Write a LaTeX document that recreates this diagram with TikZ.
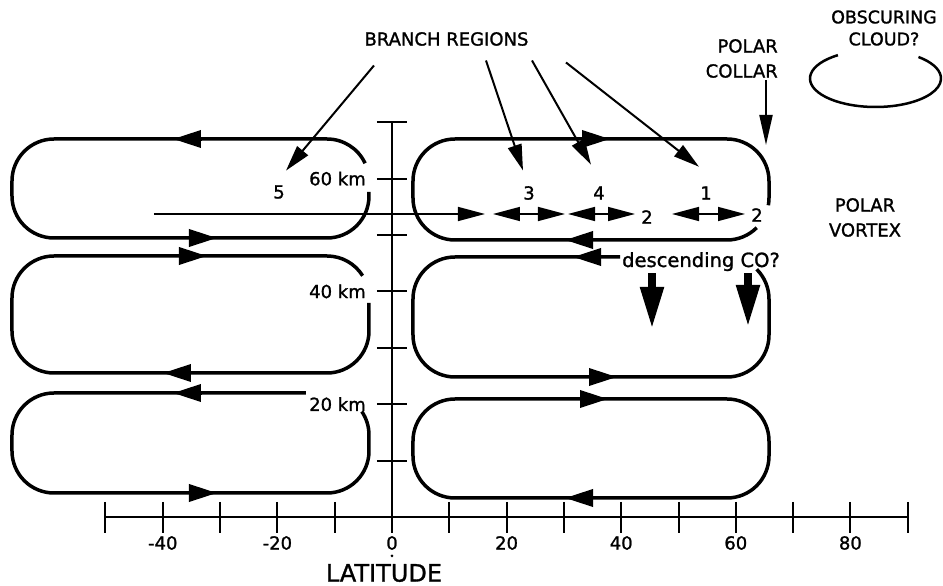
\documentclass[tikz,border=0pt]{standalone}
\usepackage{fontspec}
\setmainfont{DejaVu Sans}[FakeBold=1.3]
\usetikzlibrary{arrows.meta}

\begin{document}
\begin{tikzpicture}[x=1pt, y=1pt,
    cell/.style={line width=3.5pt},
    flow/.style={line width=3.5pt, -{Triangle[length=28pt,width=17pt]}},
    axis/.style={line width=2pt},
    pointer/.style={line width=2pt, -{Triangle[length=26pt,width=14pt]}},
    oneway/.style={line width=1.5pt, -{Triangle[length=27pt,width=14pt]}},
    twoway/.style={line width=1.5pt, {Triangle[length=27pt,width=14pt]}-{Triangle[length=27pt,width=14pt]}},
    sink/.style={line width=8pt, -{Triangle[length=42pt,width=22pt]}},
    lbl/.style={font=\fontsize{18}{25}\selectfont, inner sep=2pt}]

  \path[use as bounding box] (-392,-69) rectangle (551,517);

  % axes: 10 deg = 57.3, 10 km = 56.4
  \draw[axis] (0,-13) -- (0,394.8);
  \foreach \k in {1,...,7}
    \draw[axis] (-15,\k*56.4) -- (15,\k*56.4);
  \draw[axis] (-50*5.73,0) -- (90*5.73,0);
  \foreach \lat in {-50,-40,...,90}
    \draw[axis] (\lat*5.73,15) -- (\lat*5.73,-16);
  \foreach \lat [count=\i] in {-40,-20,...,80}
    \node[lbl] (lat\i) at (\lat*5.73,-26) {\lat};
  \fill (0,-39) circle (1.5);
  \node[lbl, font=\fontsize{24}{28}\selectfont] (latitude) at (-8,-56) {LATITUDE};

  \node[lbl, anchor=east] (km60) at (-24,338.4) {60 km};
  \node[lbl, anchor=east] (km40) at (-24,225.6) {40 km};
  \node[lbl, anchor=east] (km20) at (-24,112.8) {20 km};

  % cells, southern side
  \draw[cell] (-23,325) -- (-23,321) arc[start angle=0,end angle=-90,radius=42]
    -- (-338,279) arc[start angle=270,end angle=180,radius=42]
    -- (-380,336) arc[start angle=180,end angle=90,radius=42]
    -- (-65,378) arc[start angle=90,end angle=25,radius=42];
  \draw[cell] (-23,214) -- (-23,186) arc[start angle=0,end angle=-90,radius=42]
    -- (-338,144) arc[start angle=270,end angle=180,radius=42]
    -- (-380,219) arc[start angle=180,end angle=90,radius=42]
    -- (-65,261) arc[start angle=90,end angle=32,radius=42];
  \draw[cell] (-86,124) -- (-338,124) arc[start angle=90,end angle=180,radius=42]
    -- (-380,66) arc[start angle=180,end angle=270,radius=42]
    -- (-65,24) arc[start angle=270,end angle=360,radius=42]
    -- (-23,82) arc[start angle=0,end angle=34,radius=42];

  % cells, northern side
  \node[lbl, font=\fontsize{19.5}{24}\selectfont, anchor=base west] (desc) at (228,250) {descending CO?};
  \draw[cell] (335,319) ++(-45:42) arc[start angle=-45,end angle=-90,radius=42]
    -- (63,277) arc[start angle=270,end angle=180,radius=42]
    -- (21,336) arc[start angle=180,end angle=90,radius=42]
    -- (335,378) arc[start angle=90,end angle=0,radius=42]
    -- (377,319) arc[start angle=0,end angle=-10,radius=42];
  \draw[cell] (desc.west |- 0,260) -- (63,260) arc[start angle=90,end angle=180,radius=42]
    -- (21,182) arc[start angle=180,end angle=270,radius=42]
    -- (335,140) arc[start angle=270,end angle=360,radius=42]
    -- (377,218) arc[start angle=0,end angle=45,radius=42];
  \draw[cell, rounded corners=42pt] (21,19) rectangle (377,118);

  % circulation arrows
  \foreach \from/\to/\y in {-190/-219/378, -203/-175/279, -213/-185/261, -201/-229/144,
      -190/-219/124, -203/-175/24, 190/218/378, 201/173/277, 209/181/260,
      197/225/140, 188/216/118, 201/173/19}
    \draw[flow] (\from,\y) -- (\to,\y);

  % branch line
  \coordinate (m0) at (-238,303);
  \coordinate (m1) at (93,303);
  \draw[oneway] (m0) -- (m1);
  \foreach \a/\b [count=\i] in {101/173, 176/243, 280/353} {
    \coordinate (w\i) at (\a,303);
    \coordinate (e\i) at (\b,303);
    \draw[twoway] (w\i) -- (e\i);
  }

  \node[lbl] (r5) at (-113,325) {5};
  \node[lbl] (r3) at (137,324) {3};
  \node[lbl] (r4) at (207,324) {4};
  \node[lbl] (r1) at (314,324) {1};
  \node[lbl] (r2) at (255,300) {2};
  \node[lbl] (r2p) at (365,302) {2};

  \node[lbl] (branch) at (54.5,478) {BRANCH REGIONS};
  \draw[pointer] (branch.south) ++(-72.5,-17.5) -- ([shift={(7,12.5)}]r5.north);
  \draw[pointer] (branch.south) ++(39.5,-12.5) -- ([shift={(-6,13.5)}]r3.north);
  \draw[pointer] (branch.south) ++(85.5,-12.5) -- ([shift={(-8,19.5)}]r4.north);
  \draw[pointer] (branch.south) ++(119.5,-14.5) -- ([shift={(-7,17.5)}]r1.north);

  % polar region
  \node[lbl, align=right, anchor=east] (collar) at (388,458.5) {POLAR\\COLLAR};
  \coordinate (collartip) at (374,372);
  \draw[pointer, -{Triangle[length=30pt,width=13pt]}] (collartip |- collar.south) -- (collartip);

  \node[lbl, align=center, font=\fontsize{17.5}{22}\selectfont] (cloud) at (492,489) {OBSCURING\\CLOUD?};
  \draw[line width=2.5pt] (483.5,438.5) ++(125:65.5 and 28.5)
    arc[start angle=125,end angle=409,x radius=65.5,y radius=28.5];

  \node[lbl, align=center] (vortex) at (473,299.5) {POLAR\\VORTEX};

  \coordinate (sink1) at (260,188);
  \coordinate (sink2) at (356,190);
  \draw[sink] (sink1 |- desc.south) -- (sink1);
  \draw[sink] (sink2 |- desc.south) -- (sink2);
\end{tikzpicture}
\end{document}
